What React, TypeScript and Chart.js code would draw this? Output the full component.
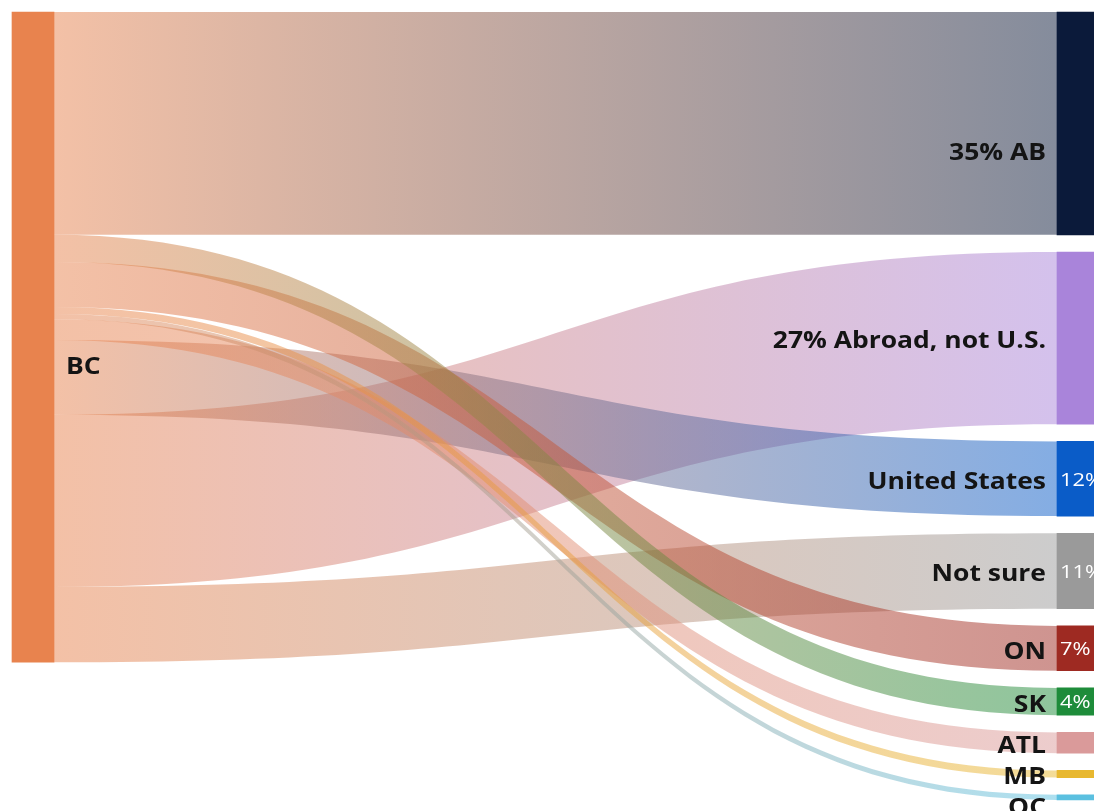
import React, { useEffect, useRef } from 'react';
import { Chart, registerables } from 'chart.js';
Chart.register(...registerables);

// ---- data ----
const SOURCE = 'BC';
const TARGETS = ['AB', 'Abroad, not U.S.', 'United States', 'Not sure', 'ON', 'SK', 'ATL', 'MB', 'QC'];
const SHARES = [34.3, 26.5, 11.5, 11.6, 6.9, 4.2, 3.2, 1.1, 0.8];
const NAME_LABELS = ['35% AB', '27% Abroad, not U.S.', 'United States', 'Not sure', 'ON', 'SK', 'ATL', 'MB', 'QC'];
const PCT_LABELS = ['', '', '12%', '11%', '7%', '4%', '', '', ''];
// order in which the flows leave the BC node (top to bottom)
const SOURCE_ORDER = ['AB', 'SK', 'ON', 'MB', 'QC', 'ATL', 'United States', 'Abroad, not U.S.', 'Not sure'];
const NODE_GAP = 2.65;

// ---- styles ----
const SOURCE_COLOR = '#E8834E';
const TARGET_COLORS = ['#0B1A3A', '#A984DA', '#0A5CC8', '#9A9A9A', '#9E2A22', '#1E8C3A', '#DA9A9A', '#E8B830', '#5BC0E0'];
const LINK_ALPHA = 0.5;
const TEXT_STRETCH = 1.15;
// where along a node (0 = top, 1 = bottom) its name label sits
const SOURCE_LABEL_FRACTION = 0.545;
const FIRST_LABEL_FRACTION = 0.62;

function rgba(hex: string, a: number) {
  const n = parseInt(hex.slice(1), 16);
  return `rgba(${(n >> 16) & 255},${(n >> 8) & 255},${n & 255},${a})`;
}

const total = SHARES.reduce((a, b) => a + b, 0);
const targetStart: number[] = [];
{
  let acc = 0;
  SHARES.forEach((v) => {
    targetStart.push(acc);
    acc += v + NODE_GAP;
  });
}
const yMax = total + NODE_GAP * (TARGETS.length - 1);
const sourceStart: Record<string, number> = {};
{
  let acc = 0;
  SOURCE_ORDER.forEach((name) => {
    sourceStart[name] = acc;
    acc += SHARES[TARGETS.indexOf(name)];
  });
}

const sankeyPlugin = {
  id: 'sankeyLinks',
  beforeDatasetsDraw(chart: any) {
    const { ctx } = chart;
    const y = chart.scales.y;
    const meta = chart.getDatasetMeta(0);
    const src = meta.data[0];
    const x0 = src.x + src.width / 2;
    ctx.save();
    TARGETS.forEach((name, i) => {
      const bar = meta.data[i + 1];
      const x1 = bar.x - bar.width / 2;
      const xm = (x0 + x1) / 2;
      const s0 = y.getPixelForValue(sourceStart[name]);
      const s1 = y.getPixelForValue(sourceStart[name] + SHARES[i]);
      const t0 = y.getPixelForValue(targetStart[i]);
      const t1 = y.getPixelForValue(targetStart[i] + SHARES[i]);
      const g = ctx.createLinearGradient(x0, 0, x1, 0);
      g.addColorStop(0, rgba(SOURCE_COLOR, LINK_ALPHA));
      g.addColorStop(1, rgba(TARGET_COLORS[i], LINK_ALPHA));
      ctx.beginPath();
      ctx.moveTo(x0, s0);
      ctx.bezierCurveTo(xm, s0, xm, t0, x1, t0);
      ctx.lineTo(x1, t1);
      ctx.bezierCurveTo(xm, t1, xm, s1, x0, s1);
      ctx.closePath();
      ctx.fillStyle = g;
      ctx.fill();
    });
    ctx.restore();
  },
  afterDatasetsDraw(chart: any) {
    const { ctx } = chart;
    const y = chart.scales.y;
    const meta = chart.getDatasetMeta(0);
    const src = meta.data[0];
    // text is vertically centred on its cap height (alphabetic baseline + half cap)
    const drawText = (t: string, px: number, py: number, align: CanvasTextAlign, font: string, color: string, cap: number) => {
      ctx.save();
      ctx.translate(px, py + cap / 2);
      ctx.scale(TEXT_STRETCH, 1);
      ctx.font = font;
      ctx.fillStyle = color;
      ctx.textAlign = align;
      ctx.textBaseline = 'alphabetic';
      ctx.fillText(t, 0, 0);
      ctx.restore();
    };
    const labelFont = "bold 23px 'Open Sans', 'DejaVu Sans', sans-serif";
    const pctFont = "19px 'Open Sans', 'DejaVu Sans', sans-serif";
    drawText(SOURCE, src.x + src.width / 2 + 12, y.getPixelForValue(total * SOURCE_LABEL_FRACTION), 'left', labelFont, '#141414', 16);
    let prev = -Infinity;
    TARGETS.forEach((name, i) => {
      const bar = meta.data[i + 1];
      const left = bar.x - bar.width / 2;
      const c = y.getPixelForValue(targetStart[i] + SHARES[i] / 2);
      const frac = i === 0 ? FIRST_LABEL_FRACTION : 0.5;
      const anchor = y.getPixelForValue(targetStart[i] + SHARES[i] * frac);
      const ly = Math.max(anchor + 2, prev + 31);
      prev = ly;
      drawText(NAME_LABELS[i], left - 11, ly, 'right', labelFont, '#141414', 16.5);
      if (PCT_LABELS[i]) drawText(PCT_LABELS[i], left + 3, c, 'left', pctFont, '#fff', 13.5);
    });
  },
};

export default function App() {
  const ref = useRef<HTMLCanvasElement>(null);
  useEffect(() => {
    if (!ref.current) return;
    const data = [
      { x: 0, y: [0, total] },
      ...TARGETS.map((_, i) => ({ x: 1, y: [targetStart[i], targetStart[i] + SHARES[i]] })),
    ];
    const chart = new Chart(ref.current, {
      type: 'bar',
      data: {
        datasets: [
          {
            label: 'nodes',
            data: data as any,
            backgroundColor: [SOURCE_COLOR, ...TARGET_COLORS],
            borderWidth: 0,
            barThickness: 42,
            clip: false as any,
          },
        ],
      },
      options: {
        responsive: false,
        animation: false,
        layout: { padding: { left: 33, right: 16, top: 12, bottom: 11 } },
        plugins: { legend: { display: false }, tooltip: { enabled: false } },
        scales: {
          x: { type: 'linear', min: 0, max: 1, display: false, offset: false },
          y: { type: 'linear', min: 0, max: yMax, reverse: true, display: false },
        },
      },
      plugins: [sankeyPlugin],
    });
    return () => chart.destroy();
  }, []);
  return (
    <div style={{ position: 'fixed', left: 0, top: 0, width: 1094, height: 811, overflow: 'hidden', background: '#fff' }}>
      <canvas ref={ref} width={1094} height={811} style={{ width: 1094, height: 811, display: 'block' }} />
    </div>
  );
}
